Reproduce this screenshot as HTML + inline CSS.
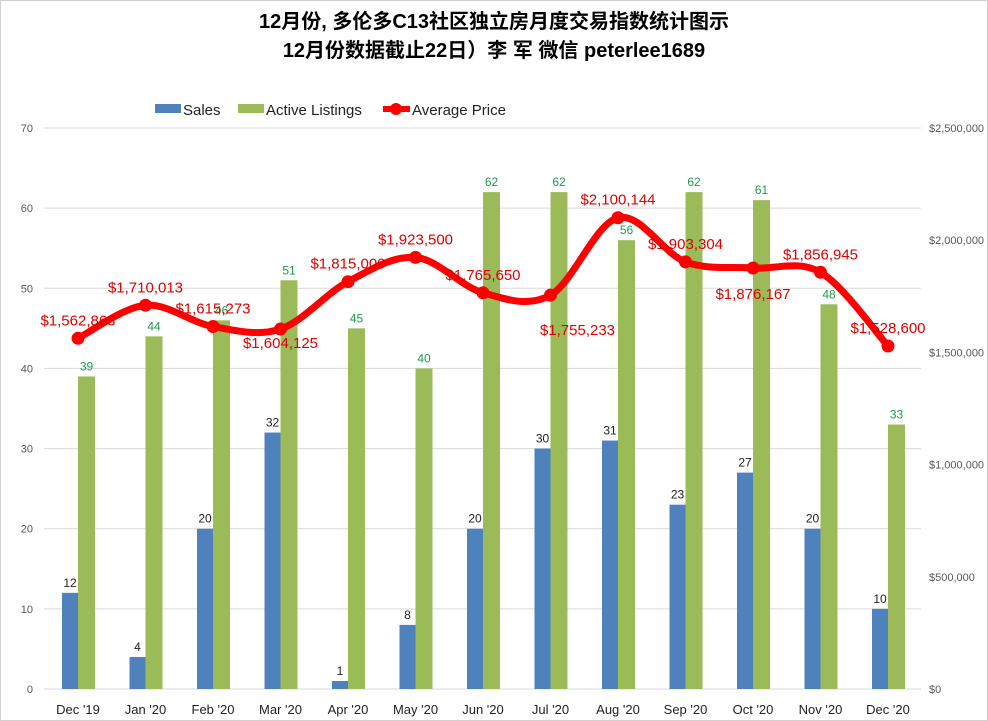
<!DOCTYPE html><html><head><meta charset="utf-8"><style>
body{margin:0;background:#fff}
svg{display:block;font-family:"Liberation Sans","Noto Sans CJK SC",sans-serif}
</style></head><body>
<svg id="s" width="988" height="721" xmlns="http://www.w3.org/2000/svg">
<rect x="0.5" y="0.5" width="987" height="720" fill="#fff" stroke="#d0d0d0"/>
<text x="494" y="28" text-anchor="middle" font-size="20" font-weight="bold" fill="#000">12月份, 多伦多C13社区独立房月度交易指数统计图示</text>
<text x="494" y="57" text-anchor="middle" font-size="20" font-weight="bold" fill="#000">12月份数据截止22日）李 军  微信  peterlee1689</text>
<rect x="155" y="104" width="26" height="9" fill="#4f81bd"/>
<text x="183" y="115" font-size="15" fill="#222">Sales</text>
<rect x="238" y="104" width="26" height="9" fill="#9bbb59"/>
<text x="266" y="115" font-size="15" fill="#222">Active Listings</text>
<line x1="383" y1="109" x2="410" y2="109" stroke="#f00" stroke-width="6"/>
<circle cx="396" cy="109" r="6" fill="#f00"/>
<text x="412" y="115" font-size="15" fill="#222">Average Price</text>
<g id="g"></g>
</svg>
<script>
var g=document.getElementById('g'),h='';
var y0=689,ppu=561/70;
for(var i=0;i<=7;i++){var y=y0-i*10*ppu;h+='<line x1="44" x2="921" y1="'+y+'" y2="'+y+'" stroke="#d9d9d9"/>';
h+='<text x="33" y="'+(y+4)+'" text-anchor="end" font-size="11" fill="#595959">'+(i*10)+'</text>';}
var rl=['$0','$500,000','$1,000,000','$1,500,000','$2,000,000','$2,500,000'];
for(i=0;i<6;i++){var y=y0-i*112.2;h+='<text x="929" y="'+(y+4)+'" font-size="11" fill="#595959">'+rl[i]+'</text>';}
var m=["Dec '19","Jan '20","Feb '20","Mar '20","Apr '20","May '20","Jun '20","Jul '20","Aug '20","Sep '20","Oct '20","Nov '20","Dec '20"];
var s=[12,4,20,32,1,8,20,30,31,23,27,20,10];
var a=[39,44,46,51,45,40,62,62,56,62,61,48,33];
var p=[1562863,1710013,1615273,1604125,1815000,1923500,1765650,1755233,2100144,1903304,1876167,1856945,1528600];
var off=[-13,-13,-13,19,-13,-13,-13,40,-13,-13,31,-13,-13];
var pts=[];
for(i=0;i<13;i++){var c=78+67.5*i;
var hs=s[i]*ppu,ha=a[i]*ppu;
h+='<rect x="'+(c-16)+'" y="'+(y0-hs)+'" width="16" height="'+hs+'" fill="#4f81bd"/>';
h+='<rect x="'+c+'" y="'+(y0-ha)+'" width="17" height="'+ha+'" fill="#9bbb59"/>';
h+='<text x="'+(c-8)+'" y="'+(y0-hs-6)+'" text-anchor="middle" font-size="12" fill="#222">'+s[i]+'</text>';
h+='<text x="'+(c+8.5)+'" y="'+(y0-ha-6)+'" text-anchor="middle" font-size="12" fill="#1e9a50">'+a[i]+'</text>';
h+='<text x="'+c+'" y="714" text-anchor="middle" font-size="13" fill="#222">'+m[i]+'</text>';
pts.push([c,y0-p[i]*561/2.5e6]);}
var d='M'+pts[0][0]+','+pts[0][1];
for(i=0;i<12;i++){var p0=pts[Math.max(i-1,0)],p1=pts[i],p2=pts[i+1],p3=pts[Math.min(i+2,12)];
d+=' C'+(p1[0]+(p2[0]-p0[0])/6)+','+(p1[1]+(p2[1]-p0[1])/6)+' '+(p2[0]-(p3[0]-p1[0])/6)+','+(p2[1]-(p3[1]-p1[1])/6)+' '+p2[0]+','+p2[1];}
h+='<path d="'+d+'" fill="none" stroke="#f00" stroke-width="7" stroke-linecap="round"/>';
for(i=0;i<13;i++){h+='<circle cx="'+pts[i][0]+'" cy="'+pts[i][1]+'" r="6.5" fill="#f00"/>';}
for(i=0;i<13;i++){var lx=pts[i][0]+(i==7?27:0),ly=pts[i][1]+off[i];
var t='$'+p[i].toString().replace(/\B(?=(\d{3})+(?!\d))/g,',');
h+='<text x="'+lx+'" y="'+ly+'" text-anchor="middle" font-size="15" fill="#e00000">'+t+'</text>';}
g.innerHTML=h;
</script>
</body></html>
